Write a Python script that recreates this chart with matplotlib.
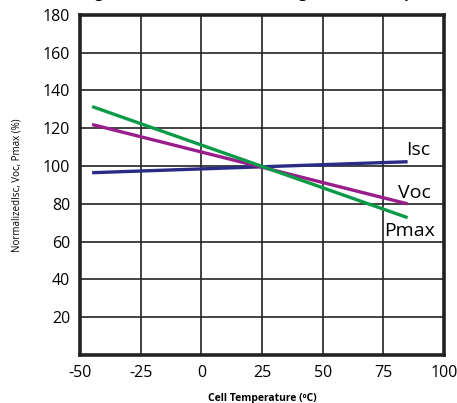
import matplotlib
matplotlib.use("Agg")
import matplotlib.pyplot as plt

# temperature range of the lines and their end values (normalized %)
temp = [-45, 85]
isc = [96.5, 102.3]
voc = [122.0, 80.0]
pmax = [131.5, 72.7]

xticks = [-50, -25, 0, 25, 50, 75, 100]
yticks = [20, 40, 60, 80, 100, 120, 140, 160, 180]

plt.rcParams['font.family'] = ['Open Sans', 'DejaVu Sans']
plt.rcParams['axes.unicode_minus'] = False

fig = plt.figure(figsize=(4.57, 4.03), dpi=100)
ax = fig.add_axes([0.175, 0.119, 0.7966, 0.844])

ax.plot(temp, isc, color="#2b2a87", lw=2.4, solid_capstyle="butt")
ax.plot(temp, voc, color="#9a1d8c", lw=2.4, solid_capstyle="butt")
ax.plot(temp, pmax, color="#0b9b47", lw=2.4, solid_capstyle="butt")

ax.text(89.5, 108.5, "Isc", fontsize=14, ha="center", va="center")
ax.text(88, 86, "Voc", fontsize=14, ha="center", va="center")
ax.text(86, 65.5, "Pmax", fontsize=14, ha="center", va="center")

ax.set_xlim(-50, 100)
ax.set_ylim(0, 180)
ax.set_xticks(xticks)
ax.set_yticks(yticks)
ax.tick_params(length=0, labelsize=11.5, pad=7)
ax.grid(True, color="#222222", lw=1.2)
ax.set_axisbelow(True)
for s in ax.spines.values():
    s.set_linewidth(2.6)
    s.set_color("#222222")

ax.set_xlabel("Cell Temperature (ºC)", fontsize=7.5, fontweight="bold", labelpad=9)
ax.set_ylabel("NormalizedIsc, Voc, Pmax (%)", fontsize=7, labelpad=15)

# title sits mostly above the visible area, as in the reference
fig.text(0.575, 1.0 + 2 / 403, "Voltage, Current and Power Change vs. Cell Temperature",
         fontsize=10.5, fontweight="bold", ha="center", va="baseline")

fig.savefig("out.png", dpi=100)
